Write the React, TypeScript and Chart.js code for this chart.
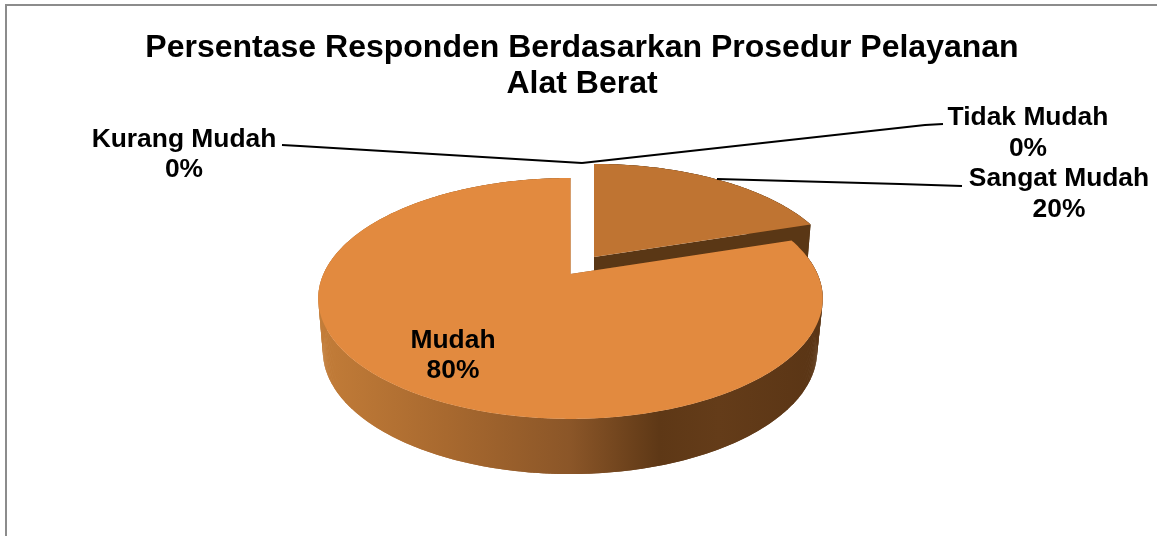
import React, { useEffect, useRef } from "react";
import { Chart, registerables } from "chart.js";

Chart.register(...registerables);

const categories = ["Sangat Mudah", "Mudah", "Kurang Mudah", "Tidak Mudah"];
const percentages = [20, 80, 0, 0];
const sliceColors = ["#BF7432", "#E28A3F", "#A6A6A6", "#8C8C8C"];
const titleLines = ["Persentase Responden Berdasarkan Prosedur Pelayanan", "Alat Berat"];

const FONT = '"Liberation Sans", Arial, sans-serif';
const K = -0.203;

type Proj = { ax: number; ay: number; b: number; c: number };
const topMain: Proj = { ax: 570.5, ay: 274, b: 247, c: 115.5 };
const botMain: Proj = { ax: 570, ay: 326, b: 242, c: 118 };
const topExpl: Proj = { ax: 594, ay: 257, b: 242, c: 112 };
const botExpl: Proj = { ax: 594, ay: 300, b: 238, c: 112 };

const labelPlacement = [
  { x: 1059, y: 179, lh: 31 },
  { x: 453, y: 341, lh: 30 },
  { x: 184, y: 140, lh: 30 },
  { x: 1028, y: 118, lh: 31 },
];
const leaders: number[][][] = [
  [[717, 179], [900, 184], [962, 186]],
  [],
  [[282, 145], [300, 146], [582, 163]],
  [[943, 124], [925, 125], [582, 163]],
];

function pt(p: Proj, a: number): [number, number] {
  const u = Math.cos(a);
  const v = Math.sin(a);
  const d = 1 + K * v;
  return [p.ax + (p.b * u) / d, p.ay + (p.c * v) / d];
}

function arcPoints(p: Proj, s: number, e: number): [number, number][] {
  const n = Math.max(2, Math.ceil(Math.abs(e - s) / 0.01));
  const out: [number, number][] = [];
  for (let i = 0; i <= n; i++) out.push(pt(p, s + ((e - s) * i) / n));
  return out;
}

const pie3d = {
  id: "pie3d",
  beforeDraw(chart: any) {
    const { ctx, width, height } = chart;
    ctx.save();
    ctx.fillStyle = "#FFFFFF";
    ctx.fillRect(0, 0, width, height);
    ctx.strokeStyle = "#8C8C8C";
    ctx.lineWidth = 2;
    ctx.beginPath();
    ctx.moveTo(6, height);
    ctx.lineTo(6, 5);
    ctx.lineTo(width, 5);
    ctx.stroke();
    ctx.restore();
  },
  beforeDatasetDraw(chart: any) {
    const { ctx } = chart;
    const meta = chart.getDatasetMeta(0);
    const arcs = meta.data as any[];
    ctx.save();

    const quad = (a: number[], b: number[], c: number[], d: number[]) => {
      ctx.beginPath();
      ctx.moveTo(a[0], a[1]);
      ctx.lineTo(b[0], b[1]);
      ctx.lineTo(c[0], c[1]);
      ctx.lineTo(d[0], d[1]);
      ctx.closePath();
      ctx.fill();
    };

    const drawSlice = (i: number, top: Proj, bot: Proj, sideFill: any) => {
      const s = arcs[i].startAngle;
      const e = arcs[i].endAngle;
      if (e - s <= 0) return;
      const tp = arcPoints(top, s, e);
      const bp = arcPoints(bot, s, e);
      ctx.fillStyle = sideFill;
      // outer wall, built from overlapping strips so that the silhouette stays convex
      for (let j = 0; j + 2 < tp.length; j++) {
        quad(tp[j], tp[j + 2], bp[j + 2], bp[j]);
      }
      // both radial cuts
      const ta = [top.ax, top.ay];
      const ba = [bot.ax, bot.ay];
      quad(ta, tp[0], bp[0], ba);
      quad(ta, tp[tp.length - 1], bp[bp.length - 1], ba);
      // top face
      ctx.fillStyle = arcs[i].options.backgroundColor;
      ctx.beginPath();
      ctx.moveTo(top.ax, top.ay);
      tp.forEach(([x, y]: [number, number]) => ctx.lineTo(x, y));
      ctx.closePath();
      ctx.fill();
    };

    const grad = ctx.createLinearGradient(322, 0, 818, 0);
    grad.addColorStop(0, "#C27C38");
    grad.addColorStop(0.25, "#A8692F");
    grad.addColorStop(0.5, "#8B5628");
    grad.addColorStop(0.68, "#5E3816");
    grad.addColorStop(0.8, "#643C19");
    grad.addColorStop(1, "#5A3515");

    drawSlice(0, topExpl, botExpl, "#5A3715");
    drawSlice(1, topMain, botMain, grad);
    ctx.restore();
    return false;
  },
  afterDatasetsDraw(chart: any) {
    const { ctx } = chart;
    ctx.save();
    ctx.strokeStyle = "#000000";
    ctx.lineWidth = 2;
    leaders.forEach((pts) => {
      if (!pts.length) return;
      ctx.beginPath();
      pts.forEach(([x, y], j) => (j ? ctx.lineTo(x, y) : ctx.moveTo(x, y)));
      ctx.stroke();
    });
    ctx.fillStyle = "#000000";
    ctx.font = `bold 26.4px ${FONT}`;
    ctx.textAlign = "center";
    ctx.textBaseline = "middle";
    categories.forEach((name, i) => {
      const p = labelPlacement[i];
      ctx.fillText(name, p.x, p.y);
      ctx.fillText(`${percentages[i]}%`, p.x, p.y + p.lh);
    });
    ctx.restore();
  },
};

export default function App() {
  const ref = useRef<HTMLCanvasElement>(null);
  useEffect(() => {
    if (!ref.current) return;
    const chart = new Chart(ref.current, {
      type: "pie",
      data: {
        labels: categories,
        datasets: [{ data: percentages, backgroundColor: sliceColors, borderWidth: 0 }],
      },
      options: {
        responsive: false,
        animation: false,
        layout: { padding: { left: 7, top: 30 } },
        plugins: {
          legend: { display: false },
          tooltip: { enabled: false },
          title: {
            display: true,
            text: titleLines,
            color: "#000000",
            font: { family: FONT, size: 32, weight: "bold", lineHeight: 1.125 },
            padding: { top: 0, bottom: 0 },
          },
        },
      },
      plugins: [pie3d],
    } as any);
    return () => chart.destroy();
  }, []);
  return (
    <canvas
      ref={ref}
      width={1157}
      height={536}
      style={{ position: "absolute", left: 0, top: 0, display: "block" }}
    />
  );
}
